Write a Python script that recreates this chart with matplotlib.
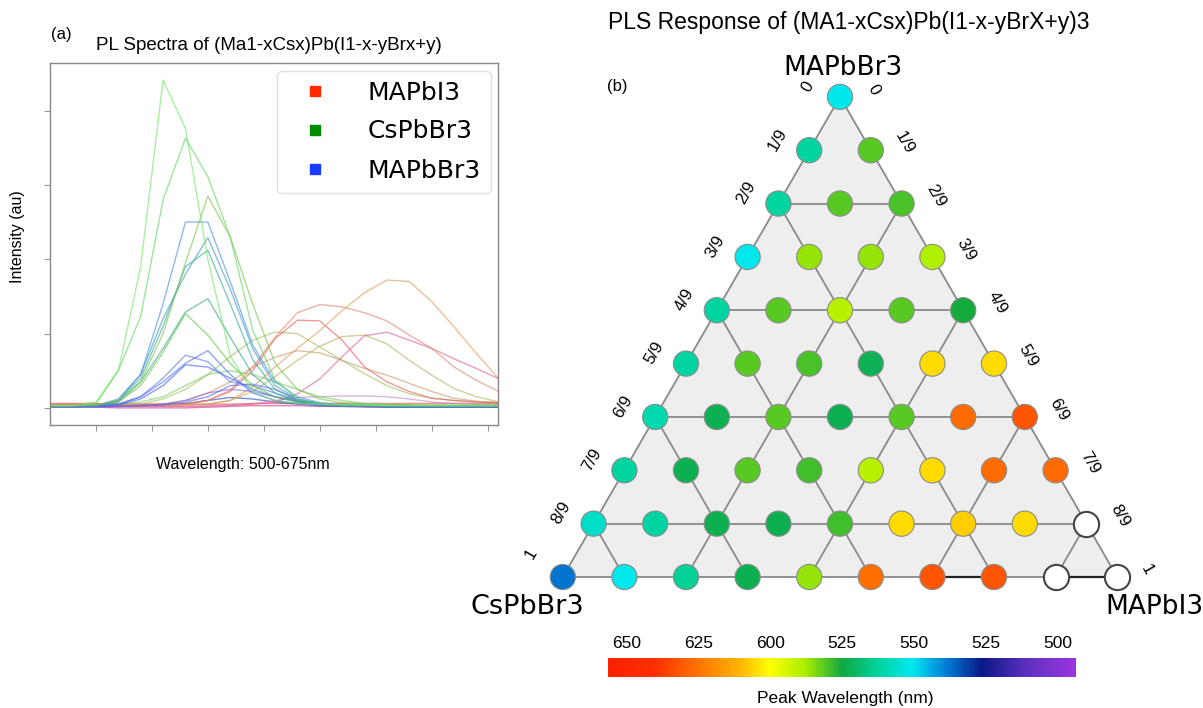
import numpy as np
import matplotlib
matplotlib.use('Agg')
import matplotlib.pyplot as plt
from matplotlib.colors import LinearSegmentedColormap, Normalize
from matplotlib.cm import ScalarMappable
from matplotlib.lines import Line2D

# ---------------- data: PL spectra (480..680 nm, step 10) ----------------
wl = np.arange(480, 681, 10)

pl_green_a = [0.03, 0.03, 0.08, 0.50, 1.90, 4.41, 3.76, 2.00, 0.70, 0.22, 0.10, 0.06, 0.05, 0.04, 0.04, 0.03, 0.03, 0.03, 0.03, 0.03, 0.03]
pl_green_b = [0.03, 0.03, 0.05, 0.50, 1.23, 2.80, 3.63, 3.11, 2.30, 1.05, 0.38, 0.12, 0.06, 0.04, 0.04, 0.03, 0.03, 0.03, 0.03, 0.03, 0.03]
pl_green_c = [0.03, 0.03, 0.04, 0.10, 0.35, 1.00, 1.95, 2.85, 2.30, 1.40, 0.60, 0.25, 0.12, 0.07, 0.05, 0.04, 0.04, 0.03, 0.03, 0.03, 0.03]
pl_blue_h = [0.02, 0.02, 0.03, 0.12, 0.45, 1.40, 2.50, 2.50, 1.70, 0.85, 0.35, 0.15, 0.07, 0.04, 0.03, 0.03, 0.03, 0.02, 0.02, 0.02, 0.02]
pl_teal_d = [0.02, 0.02, 0.03, 0.10, 0.45, 1.20, 1.80, 2.29, 1.60, 0.80, 0.30, 0.12, 0.05, 0.03, 0.03, 0.02, 0.02, 0.02, 0.02, 0.02, 0.02]
pl_teal_e = [0.02, 0.02, 0.03, 0.10, 0.40, 1.10, 1.90, 2.12, 1.40, 0.65, 0.25, 0.10, 0.05, 0.03, 0.03, 0.02, 0.02, 0.02, 0.02, 0.02, 0.02]
pl_teal_f = [0.02, 0.02, 0.03, 0.08, 0.35, 0.80, 1.29, 1.47, 0.95, 0.45, 0.20, 0.08, 0.05, 0.03, 0.03, 0.02, 0.02, 0.02, 0.02, 0.02, 0.02]
pl_green_g = [0.03, 0.03, 0.03, 0.08, 0.30, 0.75, 1.27, 0.98, 0.60, 0.30, 0.15, 0.08, 0.05, 0.04, 0.03, 0.03, 0.03, 0.03, 0.03, 0.03, 0.03]
pl_blue_g = [0.02, 0.02, 0.03, 0.05, 0.15, 0.35, 0.60, 0.77, 0.45, 0.20, 0.10, 0.06, 0.04, 0.03, 0.02, 0.02, 0.02, 0.02, 0.02, 0.02, 0.02]
pl_blue_k = [0.02, 0.02, 0.03, 0.05, 0.15, 0.40, 0.71, 0.62, 0.35, 0.30, 0.20, 0.10, 0.05, 0.03, 0.02, 0.02, 0.02, 0.02, 0.02, 0.02, 0.02]
pl_blue_l = [0.02, 0.02, 0.02, 0.04, 0.12, 0.30, 0.58, 0.55, 0.40, 0.25, 0.15, 0.08, 0.05, 0.03, 0.02, 0.02, 0.02, 0.02, 0.02, 0.02, 0.02]
pl_green_n = [0.03, 0.03, 0.03, 0.05, 0.08, 0.15, 0.30, 0.45, 0.50, 0.45, 0.35, 0.25, 0.15, 0.10, 0.06, 0.05, 0.04, 0.04, 0.04, 0.04, 0.04]
pl_purple_p = [0.02, 0.02, 0.02, 0.02, 0.03, 0.05, 0.10, 0.20, 0.25, 0.22, 0.15, 0.10, 0.06, 0.04, 0.03, 0.03, 0.02, 0.02, 0.02, 0.02, 0.02]
pl_blue_q = [0.01, 0.01, 0.01, 0.02, 0.03, 0.04, 0.08, 0.15, 0.30, 0.32, 0.25, 0.12, 0.06, 0.04, 0.03, 0.02, 0.02, 0.02, 0.02, 0.02, 0.02]
pl_orange = [0.04, 0.04, 0.04, 0.04, 0.04, 0.04, 0.04, 0.05, 0.10, 0.28, 0.55, 0.80, 1.04, 1.31, 1.55, 1.72, 1.70, 1.43, 1.09, 0.73, 0.39]
pl_salmon = [0.04, 0.04, 0.04, 0.04, 0.04, 0.04, 0.05, 0.10, 0.24, 0.55, 0.95, 1.28, 1.39, 1.36, 1.28, 1.17, 0.98, 0.80, 0.55, 0.37, 0.22]
pl_red = [0.05, 0.05, 0.05, 0.05, 0.05, 0.05, 0.05, 0.10, 0.22, 0.50, 0.93, 1.18, 1.17, 0.91, 0.55, 0.35, 0.22, 0.13, 0.10, 0.08, 0.07]
pl_olive = [0.03, 0.03, 0.03, 0.03, 0.05, 0.12, 0.25, 0.45, 0.69, 0.91, 1.02, 1.00, 0.82, 0.64, 0.46, 0.30, 0.19, 0.13, 0.10, 0.08, 0.07]
pl_khaki = [0.03, 0.03, 0.03, 0.03, 0.03, 0.03, 0.04, 0.05, 0.10, 0.22, 0.42, 0.64, 0.83, 0.96, 0.98, 0.86, 0.64, 0.44, 0.26, 0.15, 0.08]
pl_tan = [0.03, 0.03, 0.03, 0.03, 0.03, 0.05, 0.10, 0.20, 0.35, 0.55, 0.68, 0.77, 0.74, 0.64, 0.53, 0.44, 0.33, 0.22, 0.13, 0.09, 0.07]
pl_pink = [0.02, 0.02, 0.02, 0.02, 0.02, 0.02, 0.02, 0.02, 0.03, 0.05, 0.08, 0.19, 0.39, 0.69, 0.97, 1.02, 0.91, 0.80, 0.66, 0.53, 0.39]
pl_pink_low = [0.02, 0.02, 0.02, 0.02, 0.02, 0.02, 0.02, 0.03, 0.04, 0.05, 0.10, 0.14, 0.15, 0.16, 0.16, 0.15, 0.12, 0.08, 0.06, 0.05, 0.05]
pl_red_flat = [0.06, 0.06, 0.06, 0.05, 0.05, 0.05, 0.05, 0.05, 0.05, 0.06, 0.06, 0.06, 0.06, 0.06, 0.06, 0.06, 0.06, 0.06, 0.06, 0.06, 0.06]
pl_magenta_flat = [0.01, 0.01, 0.01, 0.00, 0.00, 0.00, 0.00, 0.01, 0.02, 0.03, 0.03, 0.03, 0.02, 0.02, 0.01, 0.01, 0.01, 0.01, 0.01, 0.01, 0.01]
pl_navy_flat = [0.02, 0.02, 0.02, 0.02, 0.03, 0.04, 0.06, 0.10, 0.14, 0.12, 0.08, 0.05, 0.03, 0.02, 0.02, 0.01, 0.01, 0.01, 0.01, 0.01, 0.01]

spectra = [
    (pl_red_flat, '#ee4040'), (pl_magenta_flat, '#dd3388'), (pl_navy_flat, '#2244bb'),
    (pl_pink_low, '#c888cc'), (pl_tan, '#c89a70'), (pl_khaki, '#bcae5c'),
    (pl_olive, '#9cc25c'), (pl_pink, '#e0609a'), (pl_red, '#ec5c5c'),
    (pl_salmon, '#e0846e'), (pl_orange, '#e09a58'), (pl_purple_p, '#8866dd'),
    (pl_blue_q, '#5566ee'), (pl_green_n, '#77cc66'), (pl_blue_l, '#3d5ff0'),
    (pl_blue_k, '#5a78ec'), (pl_blue_g, '#4d6ff0'), (pl_green_g, '#5cc840'),
    (pl_teal_f, '#33a890'), (pl_teal_e, '#33aa99'), (pl_teal_d, '#3f98c4'),
    (pl_blue_h, '#4a8ee0'), (pl_green_c, '#80c048'), (pl_green_b, '#5ed860'),
    (pl_green_a, '#70e864'),
]

legend_labels = ['MAPbI3', 'CsPbBr3', 'MAPbBr3']
legend_colors = ['#ff2a00', '#008c00', '#1a3cff']

# ---------------- data: ternary peak wavelengths (nm), row 0 = top ----------------
nan = np.nan
peak_rows = [
    [551],
    [562, 581],
    [562, 581, 580],
    [551, 586, 586, 589],
    [562, 581, 590, 581, 575],
    [562, 581, 580, 572, 605, 605],
    [560, 573, 581, 573, 581, 627, 632],
    [562, 573, 581, 579, 590, 605, 627, 627],
    [556, 562, 573, 573, 579, 605, 607, 605, nan],
    [538, 551, 563, 573, 586, 626, 632, 632, nan, nan],
]
frac_labels = ['0', '1/9', '2/9', '3/9', '4/9', '5/9', '6/9', '7/9', '8/9', '1']

# colour scale of the bar (nm -> colour)
cmap_nm = [493.5, 509.8, 526.1, 539.1, 550.5, 562.0, 575.0, 588.0, 600.3, 610.9, 623.9, 640.2, 656.5]
cmap_colors = ['#9a35e0', '#6030c0', '#0a1888', '#0080d8', '#00e8f0', '#00d4a0', '#10a840',
               '#aaee00', '#ffff00', '#ffb400', '#ff7a00', '#ff3000', '#ff2000']
cbar_ticks = [650, 625, 600, 575, 550, 525, 500]
cbar_labels = ['650', '625', '600', '525', '550', '525', '500']

# ---------------- figure ----------------
W, H = 1203, 708
fig = plt.figure(figsize=(W / 100, H / 100), dpi=100)


def px_box(x0, y0, x1, y1):
    return [x0 / W, 1 - y1 / H, (x1 - x0) / W, (y1 - y0) / H]


arial = 'Liberation Sans'

# ---- panel (a) ----
ax = fig.add_axes(px_box(50, 63, 498, 425))
for vals, col in spectra:
    ax.plot(wl, vals, color=col, lw=1.0, alpha=0.62)
ax.set_xlim(479.5, 679.6)
ax.set_ylim(-0.23, 4.64)
ax.set_xticks(np.arange(500, 676, 25))
ax.set_yticks([0, 1, 2, 3, 4])
ax.set_xticklabels([])
ax.set_yticklabels([])
ax.tick_params(direction='out', length=4, width=0.8, color='#999999')
for sp in ax.spines.values():
    sp.set_color('#888888')
    sp.set_linewidth(1.0)
fig.text(18 / W, 1 - 237 / H, 'Intensity (au)', rotation=90, ha='center', va='center',
         fontsize=11.5, family=arial)
fig.text(243 / W, 1 - 465 / H, 'Wavelength: 500-675nm', ha='center', va='center',
         fontsize=11.5, family=arial)
fig.text(269 / W, 1 - 46 / H, 'PL Spectra of (Ma1-xCsx)Pb(I1-x-yBrx+y)', ha='center', va='center',
         fontsize=13.5, family=arial)
fig.text(61 / W, 1 - 35 / H, '(a)', ha='center', va='center', fontsize=12, family=arial)

handles = [Line2D([], [], marker='s', ls='none', color=c, markersize=6.5) for c in legend_colors]
ax.legend(handles, legend_labels, loc='upper right', fontsize=18, handlelength=2.2, handletextpad=1.0,
          labelspacing=0.6, borderpad=0.4, borderaxespad=0.3, framealpha=0.9, edgecolor='#dddddd')

# ---- panel (b): ternary lattice ----
unit = 61.6           # pixels per lattice step
cx, by = 840, 577     # apex x, bottom row y in pixels
x_lo, x_hi, y_lo, y_hi = -6.0, 5.9, -1.2, 9.0
tx = fig.add_axes(px_box(cx + x_lo * unit, by - y_hi * unit, cx + x_hi * unit, by - y_lo * unit))
tx.set_xlim(x_lo, x_hi)
tx.set_ylim(y_lo, y_hi)
tx.axis('off')

n = len(peak_rows) - 1
h = np.sqrt(3) / 2


def node(r, p):
    return p - r / 2.0, (n - r) * h


# triangle background
corners = [node(0, 0), node(n, 0), node(n, n)]
tx.fill([c[0] for c in corners], [c[1] for c in corners], color='#eeeeee', zorder=0)

line_kw = dict(color='#8a8a8a', lw=1.3, zorder=1)
segs = [((0, 0), (n, 0)), ((0, 0), (n, n)), ((n, 0), (n, n))]
for k in range(2, n, 2):
    segs.append(((k, 0), (k, k)))          # horizontal
    segs.append(((k, k), (n, k)))          # down-left
    segs.append(((k, 0), (n, n - k)))      # down-right
for a, b in segs:
    xa, ya = node(*a)
    xb, yb = node(*b)
    tx.plot([xa, xb], [ya, yb], **line_kw)
for a, b in [((n, 6), (n, 7)), ((n, 8), (n, 9))]:
    xa, ya = node(*a)
    xb, yb = node(*b)
    tx.plot([xa, xb], [ya, yb], color='#222222', lw=1.6, zorder=1)

cmap = LinearSegmentedColormap.from_list(
    'peak', [((v - cmap_nm[0]) / (cmap_nm[-1] - cmap_nm[0]), c) for v, c in zip(cmap_nm, cmap_colors)])
norm = Normalize(cmap_nm[0], cmap_nm[-1])

xs, ys, vs = [], [], []
for r, row in enumerate(peak_rows):
    for p, v in enumerate(row):
        x, y = node(r, p)
        xs.append(x)
        ys.append(y)
        vs.append(v)
xs, ys = np.array(xs), np.array(ys)
vs = np.array(vs, dtype=float)
ok = np.isfinite(vs)
tx.scatter(xs[ok], ys[ok], c=vs[ok], cmap=cmap, norm=norm, s=330,
           edgecolors='#8c8c8c', linewidths=0.8, zorder=3)
tx.scatter(xs[~ok], ys[~ok], c='white', s=330, edgecolors='#444444', linewidths=1.5, zorder=3)

# edge fraction labels (the single "1" at the bottom sits a little higher)
for r in range(n + 1):
    lift = 0.2 if r == n else 0.0
    xl, yl = node(r, 0)
    tx.text(xl - 0.52, yl + 0.17 + lift, frac_labels[r], rotation=60, ha='center', va='center',
            fontsize=12, family=arial)
    xr, yr = node(r, r)
    tx.text(xr + 0.55 - lift * 0.3, yr + 0.12, frac_labels[r], rotation=-60, ha='center', va='center',
            fontsize=12, family=arial)

tx.text(0.05, 8.26, 'MAPbBr3', ha='center', va='center', fontsize=19)
tx.text(-5.08, -0.49, 'CsPbBr3', ha='center', va='center', fontsize=19.5)
tx.text(5.11, -0.49, 'MAPbI3', ha='center', va='center', fontsize=19)

fig.text(849 / W, 1 - 22 / H, 'PLS Response of (MA1-xCsx)Pb(I1-x-yBrX+y)3', ha='center', va='center',
         fontsize=16.5, family=arial)
fig.text(617 / W, 1 - 86 / H, '(b)', ha='center', va='center', fontsize=12, family=arial)

# ---- colour bar ----
cax = fig.add_axes(px_box(608, 658, 1076, 677))
cb = fig.colorbar(ScalarMappable(norm=norm, cmap=cmap), cax=cax, orientation='horizontal')
cb.outline.set_visible(False)
cax.invert_xaxis()
cax.xaxis.set_ticks_position('top')
cb.set_ticks(cbar_ticks)
cb.set_ticklabels(cbar_labels)
cax.tick_params(length=0, labelsize=12.5, pad=5)
for t in cax.get_xticklabels():
    t.set_family(arial)
fig.text(845 / W, 1 - 698 / H, 'Peak Wavelength (nm)', ha='center', va='center', fontsize=12.5, family=arial)

fig.savefig('out.png', dpi=100)
